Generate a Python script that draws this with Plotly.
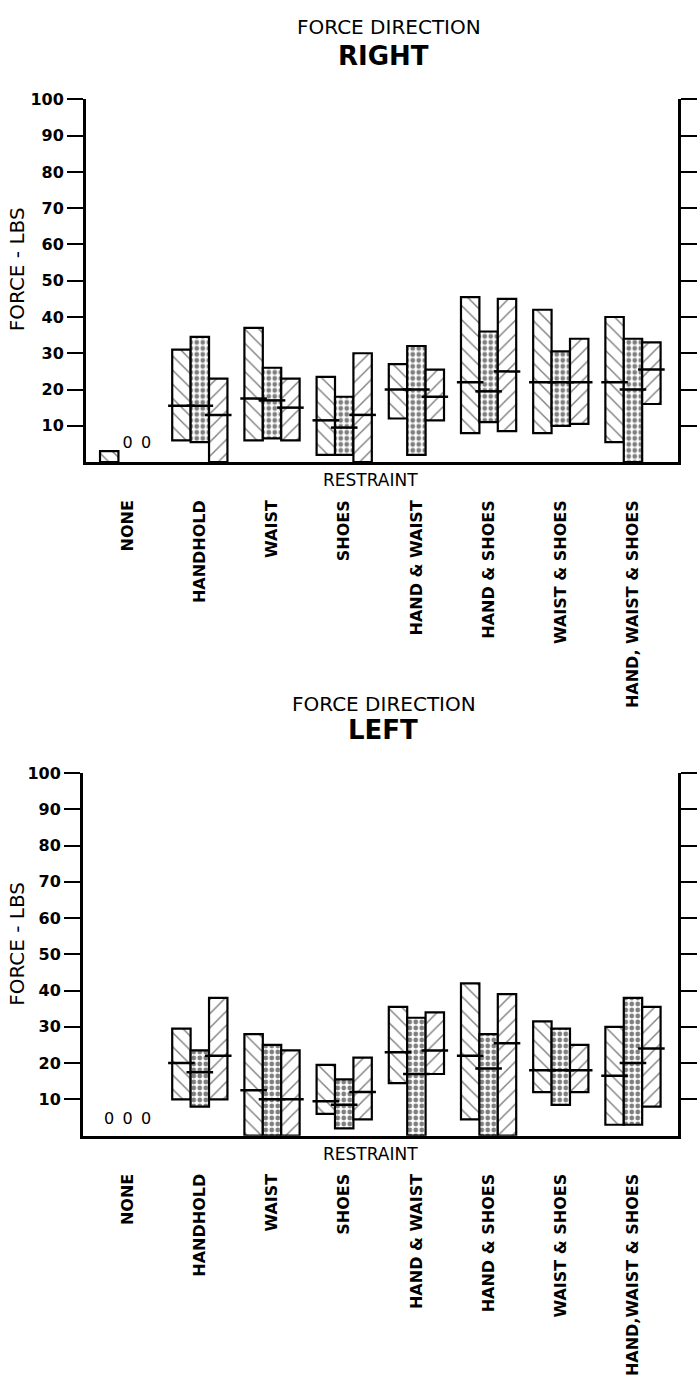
import plotly.graph_objects as go

# ---------------- data ----------------
categories_right = ["NONE", "HANDHOLD", "WAIST", "SHOES", "HAND & WAIST",
                    "HAND & SHOES", "WAIST & SHOES", "HAND, WAIST & SHOES"]
categories_left = ["NONE", "HANDHOLD", "WAIST", "SHOES", "HAND & WAIST",
                   "HAND & SHOES", "WAIST & SHOES", "HAND,WAIST & SHOES"]
y_ticks = [10, 20, 30, 40, 50, 60, 70, 80, 90, 100]

# Force direction RIGHT (three series per restraint)
right_min_a = [0, 6, 6, 2, 12, 8, 8, 5.5]
right_max_a = [3, 31, 37, 23.5, 27, 45.5, 42, 40]
right_med_a = [None, 15.5, 17.5, 11.5, 20, 22, 22, 22]
right_min_b = [0, 5.5, 6.5, 2, 2, 11, 10, 0]
right_max_b = [0, 34.5, 26, 18, 32, 36, 30.5, 34]
right_med_b = [None, 15.5, 17, 9.5, 20, 19.5, 22, 20]
right_min_c = [0, 0, 6, 0, 11.5, 8.5, 10.5, 16]
right_max_c = [0, 23, 23, 30, 25.5, 45, 34, 33]
right_med_c = [None, 13, 15, 13, 18, 25, 22, 25.5]

# Force direction LEFT
left_min_a = [0, 10, 0, 6, 14.5, 4.5, 12, 3]
left_max_a = [0, 29.5, 28, 19.5, 35.5, 42, 31.5, 30]
left_med_a = [None, 20, 12.5, 9.5, 23, 22, 18, 16.5]
left_min_b = [0, 8, 0, 2, 0, 0, 8.5, 3]
left_max_b = [0, 23.5, 25, 15.5, 32.5, 28, 29.5, 38]
left_med_b = [None, 17.5, 10, 8.5, 17, 18.5, 18, 20]
left_min_c = [0, 10, 0, 4.5, 17, 0, 12, 8]
left_max_c = [0, 38, 23.5, 21.5, 34, 39, 25, 35.5]
left_med_c = [None, 22, 10, 12, 23.5, 25.5, 18, 24]

# ---------------- styling ----------------
W, H = 697, 1385
FONT = "DejaVu Sans"
BAR_W = 0.255
OFFSETS = [-BAR_W, 0.0, BAR_W]
PATTERNS = [dict(shape="\\", size=10, solidity=0.14),
            dict(shape=".", size=6, solidity=0.5),
            dict(shape="/", size=10, solidity=0.14)]
ZERO_LABEL_Y = {"right": 5.0, "left": 4.2}

fig = go.Figure()


def add_panel(series, xa, ya, zero_y):
    zx, zy = [], []
    for k, (mn, mx, md) in enumerate(series):
        xs = [i + OFFSETS[k] for i in range(len(mn))]
        heights = [(b - a) if (b - a) > 0 else None for a, b in zip(mn, mx)]
        fig.add_trace(go.Bar(
            x=xs, y=heights, base=mn, width=BAR_W, xaxis=xa, yaxis=ya,
            marker=dict(color="white",
                        pattern=dict(fgcolor="black", bgcolor="white", **PATTERNS[k]),
                        line=dict(color="black", width=2.2)),
            showlegend=False, hoverinfo="skip"))
        fig.add_trace(go.Scatter(
            x=xs, y=md, mode="markers", xaxis=xa, yaxis=ya,
            marker=dict(symbol="line-ew", size=19, color="black",
                        line=dict(color="black", width=2.5)),
            showlegend=False, hoverinfo="skip"))
        for x, a, b in zip(xs, mn, mx):
            if a == 0 and b == 0:
                zx.append(x)
                zy.append(zero_y)
    fig.add_trace(go.Scatter(
        x=zx, y=zy, mode="text", text=["0"] * len(zx), xaxis=xa, yaxis=ya,
        textfont=dict(family=FONT, size=16, color="black"),
        showlegend=False, hoverinfo="skip"))


add_panel([(right_min_a, right_max_a, right_med_a),
           (right_min_b, right_max_b, right_med_b),
           (right_min_c, right_max_c, right_med_c)], "x", "y", ZERO_LABEL_Y["right"])
add_panel([(left_min_a, left_max_a, left_med_a),
           (left_min_b, left_max_b, left_med_b),
           (left_min_c, left_max_c, left_med_c)], "x2", "y2", ZERO_LABEL_Y["left"])


def px_x(p):
    return p / W


def px_y(p):
    return 1 - p / H


def xaxis_cfg(left_px, right_px, labels, anchor):
    x0_px, step = 128.0, 72.4
    return dict(domain=[px_x(left_px), px_x(right_px)],
                range=[(left_px - x0_px) / step, (right_px - x0_px) / step],
                anchor=anchor, tickmode="array",
                tickvals=list(range(len(labels))), ticktext=labels,
                tickangle=-90, ticks="", showline=True, linecolor="black",
                linewidth=2.5, showgrid=False, zeroline=False,
                ticklabelstandoff=29,
                tickfont=dict(family=FONT, size=16, color="black", weight="bold"))


def yaxis_cfg(top_px, bottom_px, anchor):
    return dict(domain=[px_y(bottom_px), px_y(top_px)], range=[0, 100],
                anchor=anchor, tickmode="array", tickvals=y_ticks,
                ticktext=[str(v) for v in y_ticks],
                ticks="outside", ticklen=16, tickwidth=2, tickcolor="black",
                showline=True, linecolor="black", linewidth=2.5, mirror="ticks",
                showgrid=False, zeroline=False,
                tickfont=dict(family=FONT, size=16, color="black", weight="bold"))


ann = []


def text(x, y, s, size, bold=False, angle=0):
    ann.append(dict(x=px_x(x), y=px_y(y), xref="paper", yref="paper", text=s,
                    showarrow=False, textangle=angle,
                    xanchor="center", yanchor="middle",
                    font=dict(family=FONT, size=size, color="black",
                              weight="bold" if bold else "normal")))


text(390, 18, "FORCE DIRECTION", 20)
text(385, 47, "RIGHT", 26, bold=True)
text(372, 474, "RESTRAINT", 17)
text(17, 262, "FORCE - LBS", 20, angle=-90)

text(385, 700, "FORCE DIRECTION", 20)
text(384, 726, "LEFT", 26, bold=True)
text(372, 1152, "RESTRAINT", 17)
text(17, 941, "FORCE - LBS", 20, angle=-90)

fig.update_layout(
    width=W, height=H, autosize=False,
    margin=dict(l=0, r=0, t=0, b=0),
    paper_bgcolor="white", plot_bgcolor="white",
    barmode="overlay",
    xaxis=xaxis_cfg(86, 680, categories_right, "y"),
    yaxis=yaxis_cfg(91, 456, "x"),
    xaxis2=xaxis_cfg(83, 680, categories_left, "y2"),
    yaxis2=yaxis_cfg(769, 1134, "x2"),
    annotations=ann,
)

fig.write_html("out.html")
